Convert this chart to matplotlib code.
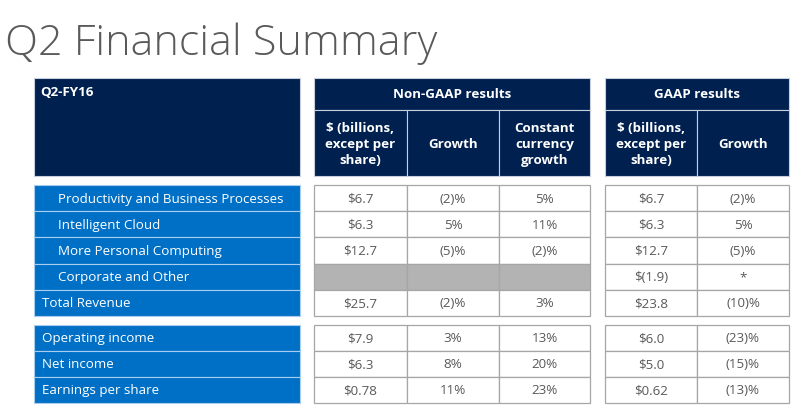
import matplotlib.pyplot as plt
from matplotlib.patches import Rectangle

# Table content
title = 'Q2 Financial Summary'
period = 'Q2-FY16'
group_headers = ['Non-GAAP results', 'GAAP results']
col_headers = ['$ (billions,\nexcept per\nshare)', 'Growth', 'Constant\ncurrency\ngrowth',
               '$ (billions,\nexcept per\nshare)', 'Growth']

rev_labels = ['Productivity and Business Processes', 'Intelligent Cloud',
              'More Personal Computing', 'Corporate and Other', 'Total Revenue']
rev_indent = [True, True, True, True, False]
rev_nongaap_usd = ['$6.7', '$6.3', '$12.7', None, '$25.7']
rev_nongaap_growth = ['(2)%', '5%', '(5)%', None, '(2)%']
rev_nongaap_cc = ['5%', '11%', '(2)%', None, '3%']
rev_gaap_usd = ['$6.7', '$6.3', '$12.7', '$(1.9)', '$23.8']
rev_gaap_growth = ['(2)%', '5%', '(5)%', '*', '(10)%']

inc_labels = ['Operating income', 'Net income', 'Earnings per share']
inc_nongaap_usd = ['$7.9', '$6.3', '$0.78']
inc_nongaap_growth = ['3%', '8%', '11%']
inc_nongaap_cc = ['13%', '20%', '23%']
inc_gaap_usd = ['$6.0', '$5.0', '$0.62']
inc_gaap_growth = ['(23)%', '(15)%', '(13)%']

navy = '#002050'
blue = '#0070c6'
grid = '#a6a6a6'
txt = '#595959'
font = 'Open Sans'
fs = 9.6

fig = plt.figure(figsize=(8, 4.14), dpi=100)
ax = fig.add_axes([0, 0, 1, 1])
ax.set_xlim(0, 800)
ax.set_ylim(414, 0)
ax.axis('off')

fig.text(5 / 800, 1 - 55 / 414, title, fontsize=31, color='#5a5a5a',
         family=font, fontweight='light', va='baseline', ha='left')

# column edges
label_x = (34, 300)
cols = [(314, 407), (407, 499), (499, 590), (605, 697), (697, 789)]
head_top, head_mid, head_bot = 79, 111, 177

# header blocks
ax.add_patch(Rectangle((label_x[0], head_top), label_x[1] - label_x[0], head_bot - head_top,
                       facecolor=navy, edgecolor='#c8cfdc', lw=0.8))
ax.text(label_x[0] + 6, head_top + 14, period, color='white', fontsize=fs,
        fontweight='bold', family=font, va='center', ha='left')
for (x0, x1), name in zip([(314, 590), (605, 789)], group_headers):
    ax.add_patch(Rectangle((x0, head_top), x1 - x0, head_mid - head_top,
                           facecolor=navy, edgecolor='#c8cfdc', lw=0.8))
    ax.text((x0 + x1) / 2, (head_top + head_mid) / 2, name, color='white', fontsize=fs,
            fontweight='bold', family=font, va='center', ha='center')
for (x0, x1), name in zip(cols, col_headers):
    ax.add_patch(Rectangle((x0, head_mid), x1 - x0, head_bot - head_mid,
                           facecolor=navy, edgecolor='#c8cfdc', lw=0.8))
    ax.text((x0 + x1) / 2, (head_mid + head_bot) / 2 + 1, name, color='white', fontsize=fs,
            fontweight='bold', family=font, va='center', ha='center', linespacing=1.3)


def draw_block(top, h, labels, indents, columns):
    for i, lab in enumerate(labels):
        y0 = top + i * h
        ax.add_patch(Rectangle((label_x[0], y0), label_x[1] - label_x[0], h,
                               facecolor=blue, edgecolor='#a9cdee', lw=0.8))
        ax.text(label_x[0] + (24 if indents[i] else 8), y0 + h / 2, lab, color='white',
                fontsize=fs, family=font, va='center', ha='left')
        for (x0, x1), vals in zip(cols, columns):
            v = vals[i]
            ax.add_patch(Rectangle((x0, y0), x1 - x0, h,
                                   facecolor='white' if v is not None else '#b3b3b3',
                                   edgecolor=grid, lw=0.9))
            if v is not None:
                ax.text((x0 + x1) / 2, y0 + h / 2, v, color=txt, fontsize=fs,
                        family=font, va='center', ha='center')


draw_block(186, 26.2, rev_labels, rev_indent,
           [rev_nongaap_usd, rev_nongaap_growth, rev_nongaap_cc, rev_gaap_usd, rev_gaap_growth])
draw_block(326, 26, inc_labels, [False] * 3,
           [inc_nongaap_usd, inc_nongaap_growth, inc_nongaap_cc, inc_gaap_usd, inc_gaap_growth])

fig.savefig('out.png', dpi=100, facecolor='white')
